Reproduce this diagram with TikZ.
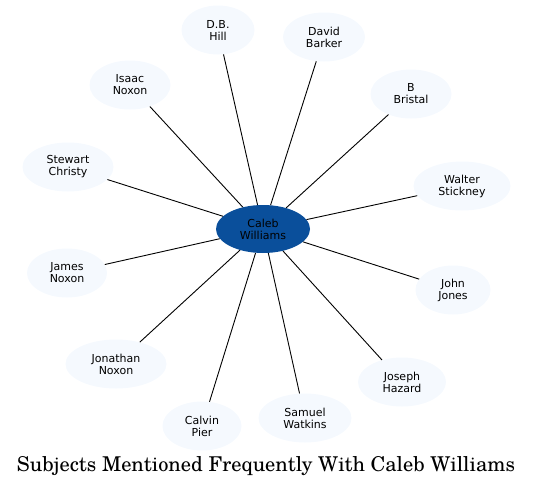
\documentclass[tikz,border=0pt]{standalone}
\usepackage{fontspec}
\setmainfont{DejaVu Sans}
\newfontfamily\titlefont{TeX Gyre Schola}
\usetikzlibrary{shapes.geometric}
\definecolor{leaf}{HTML}{F5F9FE}
\definecolor{hub}{HTML}{0A4F9B}
\tikzset{
  leafnode/.style={ellipse, fill=leaf, inner sep=0pt, minimum height=49pt, align=center, font=\fontsize{11}{12}\selectfont},
  hubnode/.style={ellipse, fill=hub, inner sep=0pt, minimum width=94pt, minimum height=48pt, align=center, font=\fontsize{11}{12}\selectfont},
  link/.style={draw=black, line width=0.9pt}
}
\begin{document}
\begin{tikzpicture}[x=1pt,y=-1pt]
\useasboundingbox (0,0) rectangle (533,488);
\node[hubnode] (cw) at (263,229) {Caleb\\Williams};
\node[leafnode, minimum width=73pt] (dbh) at (218,30) {D.B.\\Hill};
\node[leafnode, minimum width=81pt] (isn) at (130,85) {Isaac\\Noxon};
\node[leafnode, minimum width=91pt] (stc) at (68,167) {Stewart\\Christy};
\node[leafnode, minimum width=82pt] (dvb) at (324,37) {David\\Barker};
\node[leafnode, minimum width=81pt] (bbr) at (411,94) {B\\Bristal};
\node[leafnode, minimum width=97pt] (wst) at (462,186) {Walter\\Stickney};
\node[leafnode, minimum width=80pt] (jan) at (67,273) {James\\Noxon};
\node[leafnode, minimum width=101pt] (jon) at (116,364) {Jonathan\\Noxon};
\node[leafnode, minimum width=79pt] (cpi) at (202,426) {Calvin\\Pier};
\node[leafnode, minimum width=75pt] (jjo) at (453,290) {John\\Jones};
\node[leafnode, minimum width=88pt] (jha) at (402,382) {Joseph\\Hazard};
\node[leafnode, minimum width=93pt] (swa) at (305,418) {Samuel\\Watkins};
\foreach \n in {dbh,isn,stc,dvb,bbr,wst,jan,jon,cpi,jjo,jha,swa}
  \draw[link] (cw) -- (\n);
\node[font=\titlefont\fontsize{20.4}{22}\selectfont] (title) at (266,466) {Subjects Mentioned Frequently With Caleb Williams};
\end{tikzpicture}
\end{document}
